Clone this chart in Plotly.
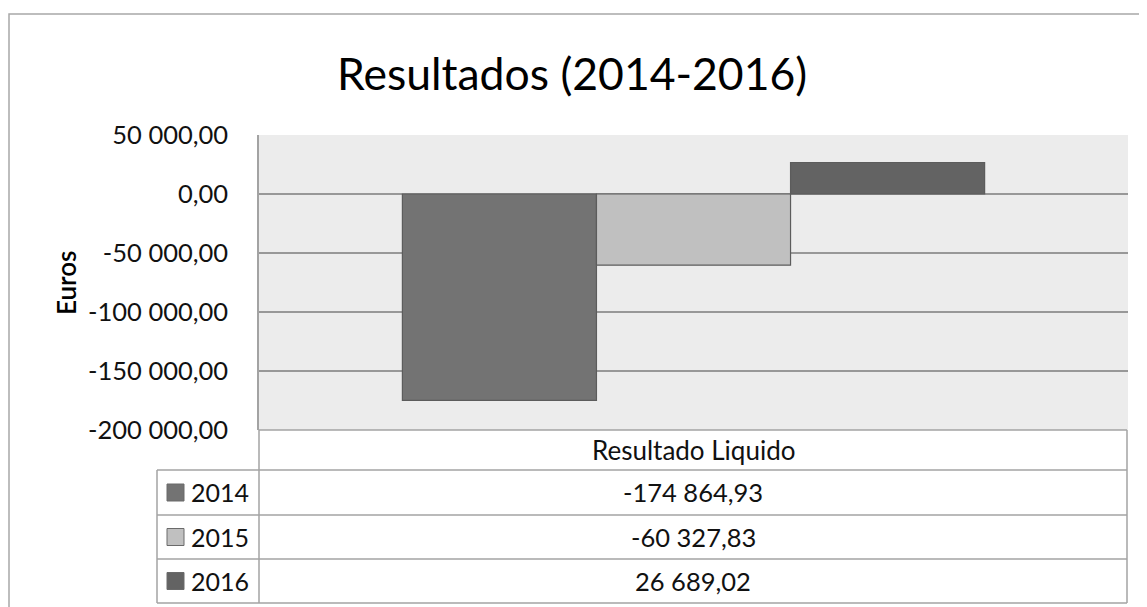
import plotly.graph_objects as go

# ---- data ----
category = ["Resultado Liquido"]
years = ["2014", "2015", "2016"]
values = [-174864.93, -60327.83, 26689.02]
value_labels = ["-174 864,93", "-60 327,83", "26 689,02"]
colors = ["#737373", "#c0c0c0", "#636363"]
tick_values = [50000, 0, -50000, -100000, -150000, -200000]
tick_labels = ["50 000,00", "0,00", "-50 000,00", "-100 000,00", "-150 000,00", "-200 000,00"]
title_text = "Resultados (2014-2016)"
y_title = "Euros"

# page body has an 8px default margin; compensate
OFF = 8
W, H = 1147 - OFF, 607 - OFF
L, R, T, B = 259, 1128, 135, 430  # plot area in page px
FONT = "Lato"
GRID = "#989898"
TBL = "#a3a3a3"


def px(x):
    return (x - L) / (R - L)


def py(y):
    return (B - y) / (B - T)


fig = go.Figure()
for yr, v, c in zip(years, values, colors):
    fig.add_trace(go.Bar(
        x=category, y=[v], name=yr,
        marker=dict(color=c, line=dict(color="#5c5c5c", width=1.2)),
        showlegend=False,
    ))

shapes = []
annotations = []

# outer chart border
shapes.append(dict(type="rect", xref="paper", yref="paper",
                   x0=px(9), x1=px(1170), y0=py(14), y1=py(660),
                   line=dict(color="#a8a8a8", width=1.5), fillcolor="rgba(0,0,0,0)",
                   layer="below"))

# data table geometry
row_edges = [430, 470, 515, 559, 603]
tbl_left, tbl_mid, tbl_right = 157, 259, 1127

def hline(y, x0, x1):
    shapes.append(dict(type="line", xref="paper", yref="paper",
                       x0=px(x0), x1=px(x1), y0=py(y), y1=py(y),
                       line=dict(color=TBL, width=1.5)))

def vline(x, y0, y1):
    shapes.append(dict(type="line", xref="paper", yref="paper",
                       x0=px(x), x1=px(x), y0=py(y0), y1=py(y1),
                       line=dict(color=TBL, width=1.5)))

hline(row_edges[0], tbl_mid, tbl_right)
for y in row_edges[1:]:
    hline(y, tbl_left, tbl_right)
vline(tbl_mid, row_edges[0], row_edges[-1])
vline(tbl_right, row_edges[0], row_edges[-1])
vline(tbl_left, row_edges[1], row_edges[-1])

# header
annotations.append(dict(text=category[0], xref="paper", yref="paper",
                        x=px((tbl_mid + tbl_right) / 2), y=py((row_edges[0] + row_edges[1]) / 2),
                        xanchor="center", yanchor="middle", showarrow=False,
                        font=dict(family=FONT, size=26, color="#111")))

for i, (yr, lab, c) in enumerate(zip(years, value_labels, colors)):
    ytop, ybot = row_edges[i + 1], row_edges[i + 2]
    yc = (ytop + ybot) / 2
    # legend key
    shapes.append(dict(type="rect", xref="paper", yref="paper",
                       x0=px(167), x1=px(184), y0=py(yc - 8.5), y1=py(yc + 8.5),
                       fillcolor=c, line=dict(color="#6a6a6a", width=1)))
    annotations.append(dict(text=yr, xref="paper", yref="paper",
                            x=px(189), y=py(yc), xanchor="left", yanchor="middle",
                            showarrow=False, font=dict(family=FONT, size=25, color="#111")))
    annotations.append(dict(text=lab, xref="paper", yref="paper",
                            x=px((tbl_mid + tbl_right) / 2), y=py(yc),
                            xanchor="center", yanchor="middle", showarrow=False,
                            font=dict(family=FONT, size=25.5, color="#111")))

# title
annotations.append(dict(text=title_text, xref="paper", yref="paper",
                        x=px(572), y=py(72), xanchor="center", yanchor="middle",
                        showarrow=False, font=dict(family=FONT, size=44.5, color="#000")))
# y axis title
annotations.append(dict(text=y_title, xref="paper", yref="paper",
                        x=px(66), y=py(283), xanchor="center", yanchor="middle",
                        textangle=-90, showarrow=False,
                        font=dict(family=FONT, size=26, color="#000", weight=600)))

fig.update_layout(
    width=W, height=H,
    margin=dict(l=L - OFF, r=1147 - R, t=T - OFF, b=607 - B, pad=0),
    paper_bgcolor="white", plot_bgcolor="#ececec",
    barmode="group", bargap=0.33, bargroupgap=0,
    font=dict(family=FONT, size=22, color="#111"),
    shapes=shapes, annotations=annotations,
    xaxis=dict(showticklabels=False, showgrid=False, zeroline=False,
               showline=False, ticks=""),
    yaxis=dict(range=[-200000, 50000], tickmode="array",
               tickvals=tick_values, ticktext=tick_labels,
               showgrid=True, gridcolor=GRID, gridwidth=1.5,
               zeroline=True, zerolinecolor=GRID, zerolinewidth=1.5,
               showline=True, linecolor=TBL, linewidth=1.5,
               ticks="outside", ticklen=24, tickcolor="rgba(0,0,0,0)",
               tickfont=dict(family=FONT, size=25.5, color="#111")),
)

fig.write_html("out.html")
